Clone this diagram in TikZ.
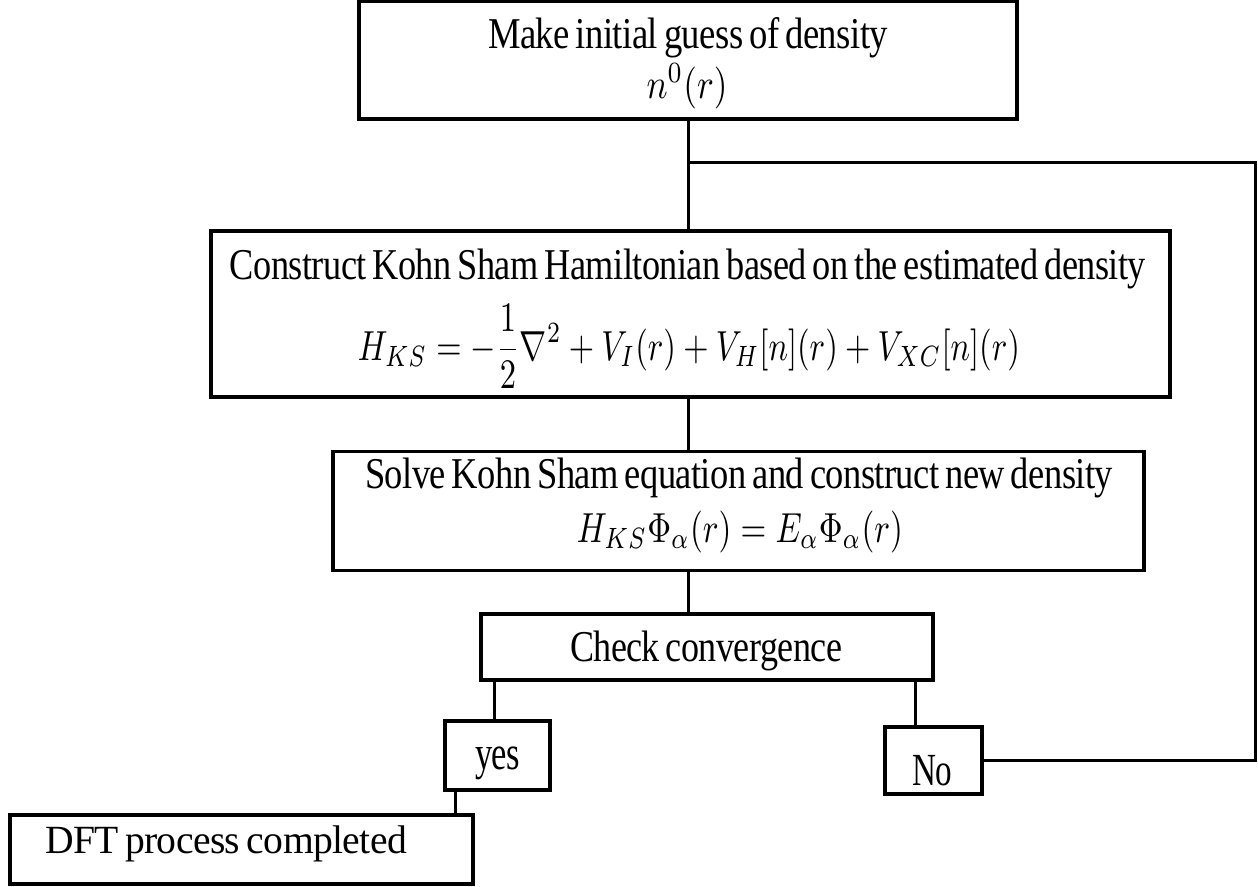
\documentclass[tikz,border=0pt]{standalone}
\usepackage{amsmath}
\usepackage{fontspec}
\setmainfont{Liberation Serif}[LetterSpace=-1.5, WordSpace=0.7]
\usepackage{graphicx}
\newcommand{\fitw}[2]{\resizebox{#1pt}{\height}{#2}}
\newcommand{\fitm}[2]{\resizebox{#1pt}{4.2\height}{\fontsize{10}{12}\selectfont #2}}
\tikzset{
  box/.style={draw, line width=3.5pt, rectangle, inner sep=0pt},
  conn/.style={line width=3pt},
  txt/.style={anchor=base, inner sep=0pt, font=\fontsize{44}{52}\selectfont},
}
\begin{document}
\begin{tikzpicture}[x=1pt,y=-1pt]
\fill[white] (0,0) rectangle (1258,886);
\useasboundingbox (0,0) rectangle (1258,886);
% boxes
\node[box, minimum width=658pt, minimum height=117.5pt] (b1) at (688,60.25) {};
\node[box, minimum width=959pt, minimum height=166pt] (b2) at (690.5,314) {};
\node[box, minimum width=811pt, minimum height=119pt] (b3) at (738.5,511) {};
\node[box, minimum width=452pt, minimum height=66pt] (b4) at (707,647) {};
\node[box, minimum width=105pt, minimum height=69pt] (yes) at (497.5,755.5) {};
\node[box, minimum width=97pt, minimum height=67pt] (no) at (933.5,760.5) {};
\node[box, minimum width=463pt, minimum height=69pt] (dft) at (241.5,849.5) {};
% texts
\node[txt] (t1a) at (688,48) {\fitw{400}{Make initial guess of density}};
\node[txt] (t1b) at (687,98) {\fitm{81}{$n^0(r)$}};
\node[txt] (t2a) at (688,279) {\fitw{916}{Construct Kohn Sham Hamiltonian based on the estimated density}};
\node[txt] (t2b) at (689,360) {\fitm{662}{$\displaystyle H_{KS} = -\frac{1}{2}\nabla^2 + V_I(r) + V_H[n](r) + V_{XC}[n](r)$}};
\node[txt] (t3a) at (739,488) {\fitw{748}{Solve Kohn Sham equation and construct new density}};
\node[txt] (t3b) at (740,542) {\fitm{326}{$H_{KS}\Phi_\alpha(r) = E_\alpha\Phi_\alpha(r)$}};
\node[txt] (t4) at (706,661) {\fitw{272}{Check convergence}};
\node[txt, font=\fontsize{48}{56}\selectfont] (t5) at (497.5,769) {\fitw{45}{yes}};
\node[txt, font=\fontsize{46}{54}\selectfont] (t6) at (932,785) {\fitw{40}{No}};
\node[txt, font=\fontsize{40}{48}\selectfont] (t7) at (226,853) {\fitw{362}{DFT process completed}};
% connectors
\coordinate (rtop) at (1255.5,162);
\draw[conn] (b1.south) -- (b1.south |- b2.north);
\draw[conn] (b1.south |- b2.south) -- (b1.south |- b3.north);
\draw[conn] (b1.south |- b3.south) -- (b1.south |- b4.north);
\draw[conn] ([xshift=-3.5pt]yes.north) -- ([xshift=-3.5pt]yes.north |- b4.south);
\draw[conn] ([xshift=-18.5pt]no.north) -- ([xshift=-18.5pt]no.north |- b4.south);
\draw[conn] ([xshift=-42.5pt]yes.south) -- ([xshift=-42.5pt]yes.south |- dft.north);
\draw[conn] (no.east) -- (no.east -| rtop) -- (rtop) -- (b1.south |- rtop);
\end{tikzpicture}
\end{document}
